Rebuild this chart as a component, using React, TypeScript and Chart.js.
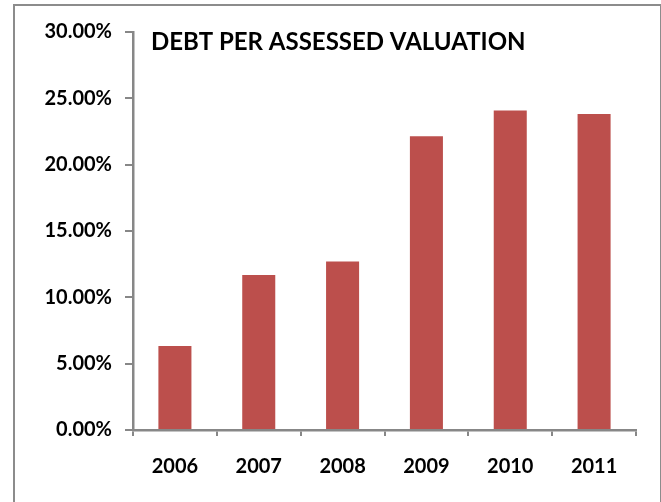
import React, { useEffect, useRef } from "react";
import { Chart, registerables } from "chart.js";

Chart.register(...registerables);

const categories = ["2006", "2007", "2008", "2009", "2010", "2011"];
const debtPerValuation = [6.33, 11.68, 12.71, 22.15, 24.09, 23.81];
const yMin = 0;
const yMax = 30;
const yStep = 5;
const chartTitle = "DEBT PER ASSESSED VALUATION";

const FONT = "Lato, 'Open Sans', sans-serif";
const AXIS_GRAY = "#878787";

const titlePlugin = {
  id: "insideTitle",
  afterDraw(chart: any) {
    const ctx = chart.ctx;
    ctx.save();
    ctx.font = `bold 24px ${FONT}`;
    ctx.fillStyle = "#000";
    ctx.textBaseline = "alphabetic";
    ctx.textAlign = "left";
    ctx.fillText(chartTitle, 151, 50);
    ctx.restore();
  },
};

export default function App() {
  const canvasRef = useRef<HTMLCanvasElement | null>(null);

  useEffect(() => {
    document.body.style.margin = "0";
    const canvas = canvasRef.current;
    if (!canvas) return;
    const chart = new Chart(canvas, {
      type: "bar",
      data: {
        labels: categories,
        datasets: [
          {
            label: chartTitle,
            data: debtPerValuation,
            backgroundColor: "#BC4F4C",
            borderWidth: 0,
            categoryPercentage: 1,
            barPercentage: 0.394,
          },
        ],
      },
      options: {
        animation: false,
        responsive: false,
        maintainAspectRatio: false,
        layout: { padding: { left: 0, top: 32, right: 25, bottom: 0 } },
        plugins: {
          legend: { display: false },
          title: { display: false },
          tooltip: { enabled: false },
        },
        scales: {
          x: {
            grid: {
              display: true,
              drawOnChartArea: false,
              drawTicks: true,
              tickLength: 6,
              color: AXIS_GRAY,
              lineWidth: 2,
              offset: true,
            },
            border: { display: true, color: AXIS_GRAY, width: 2.5 },
            ticks: {
              color: "#000",
              font: { family: FONT, size: 20, weight: "bold" },
              padding: 19,
            },
            afterFit(scale: any) {
              scale.height = 72;
            },
          },
          y: {
            min: yMin,
            max: yMax,
            grid: {
              display: true,
              drawOnChartArea: false,
              drawTicks: true,
              tickLength: 8,
              color: AXIS_GRAY,
              lineWidth: 2,
            },
            border: { display: true, color: AXIS_GRAY, width: 2.5 },
            ticks: {
              stepSize: yStep,
              color: "#000",
              font: { family: FONT, size: 20, weight: "bold" },
              padding: 13,
              callback: (v: any) => Number(v).toFixed(2) + "%",
            },
            afterFit(scale: any) {
              scale.width = 133;
            },
          },
        },
      },
      plugins: [titlePlugin],
    });
    return () => chart.destroy();
  }, []);

  return (
    <div style={{ position: "relative", width: 661, height: 502, overflow: "hidden", background: "#fff" }}>
      <canvas ref={canvasRef} width={661} height={502} style={{ position: "absolute", left: 0, top: 0 }} />
      <div
        style={{
          position: "absolute",
          left: 13,
          top: 4,
          width: 660 - 13 - 2,
          height: 560,
          border: "2px solid #8c8c8c",
          pointerEvents: "none",
          boxSizing: "content-box",
        }}
      />
    </div>
  );
}
